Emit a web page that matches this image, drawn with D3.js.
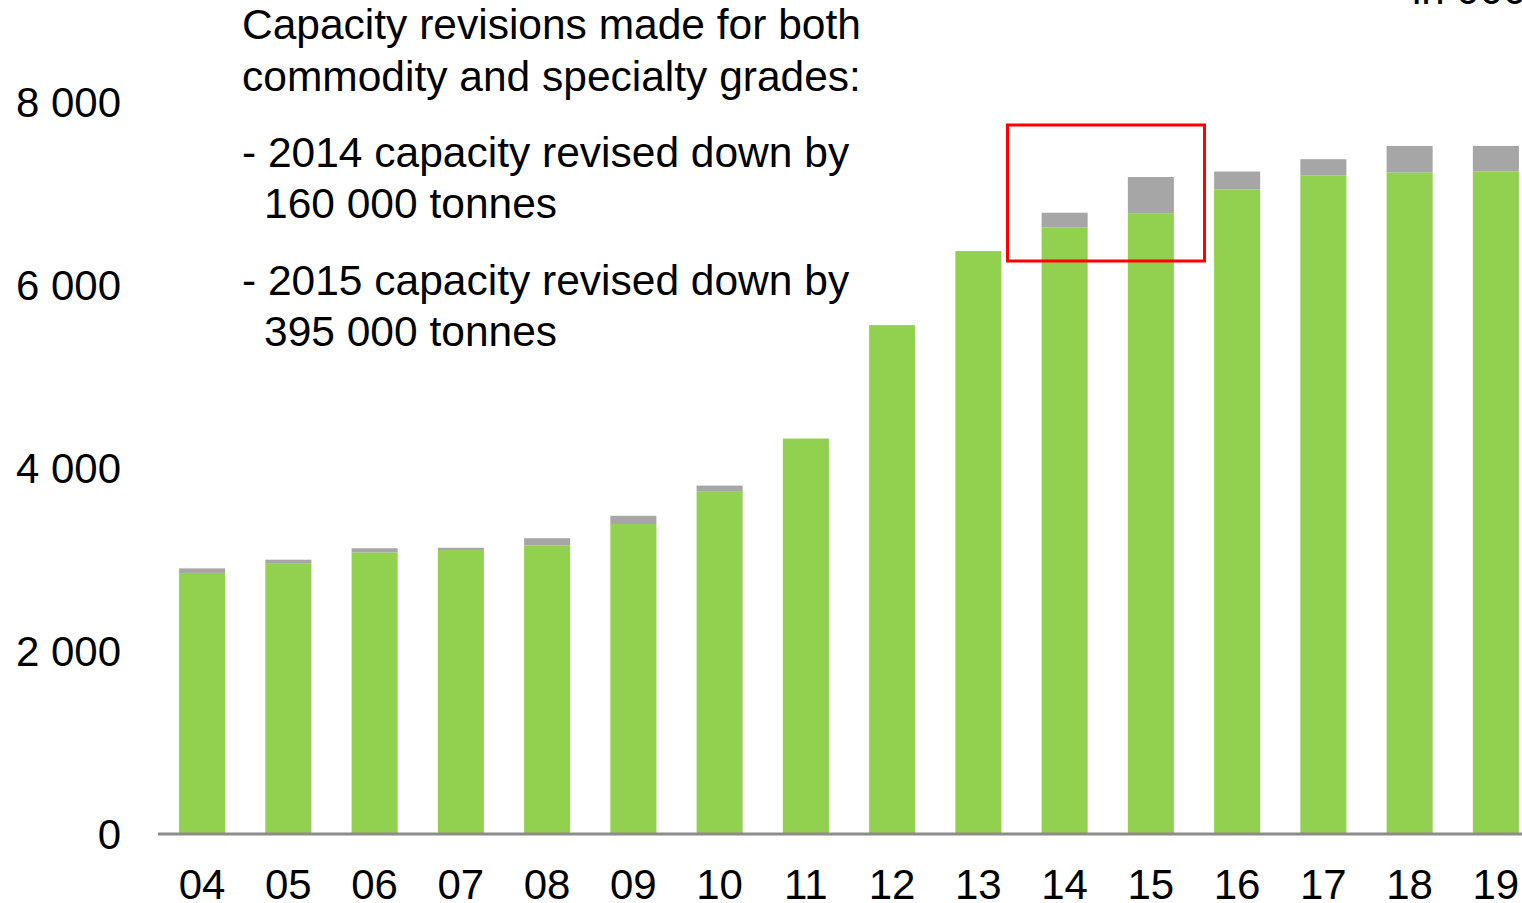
<!DOCTYPE html>
<html><head><meta charset="utf-8">
<script src="https://cdn.jsdelivr.net/npm/d3@7"></script>
<style>
html,body{margin:0;padding:0;background:#fff;overflow:hidden;}
svg{display:block;font-family:"Liberation Sans",Arial,sans-serif;}
</style></head>
<body>
<svg id="chart" width="1522" height="903"></svg>
<script>
const years = ["04","05","06","07","08","09","10","11","12","13","14","15","16","17","18","19"];
const currentCapacity = [2855, 2955, 3080, 3105, 3155, 3390, 3750, 4325, 5565, 6375, 6635, 6790, 7050, 7200, 7235, 7245];
const revision = [50, 45, 45, 25, 80, 90, 60, 0, 0, 0, 160, 395, 195, 180, 290, 280];
const yTicks = [0, 2000, 4000, 6000, 8000];
const noteLines = [
  {t:"Capacity revisions made for both", indent:0},
  {t:"commodity and specialty grades:", indent:0},
  {t:"- 2014 capacity revised down by", indent:0},
  {t:"160 000 tonnes", indent:1},
  {t:"- 2015 capacity revised down by", indent:0},
  {t:"395 000 tonnes", indent:1}
];
const unitLabel = "in 000 tonnes";

const svg = d3.select("#chart");
const x = d3.scaleBand().domain(years).range([159, 1539]).paddingInner(0.466).paddingOuter(0.233);
const y = d3.scaleLinear().domain([0, 8000]).range([834, 102.5]);

const data = years.map((yr,i)=>({year:yr, current:currentCapacity[i], revision:revision[i]}));
const stack = d3.stack().keys(["current","revision"])(data);
const colors = {current:"#92d050", revision:"#a6a6a6"};

svg.append("g").selectAll("g").data(stack).join("g")
  .attr("fill", d=>colors[d.key])
  .selectAll("rect").data(d=>d).join("rect")
  .attr("x", d=>x(d.data.year))
  .attr("width", x.bandwidth())
  .attr("y", d=>y(d[1]))
  .attr("height", d=>Math.max(0, y(d[0])-y(d[1])));

// baseline axis
svg.append("line").attr("x1",158).attr("x2",1522).attr("y1",y(0)).attr("y2",y(0))
  .attr("stroke","#8c8c8c").attr("stroke-width",3);

// y tick labels
const fmt = v => d3.format(",")(v).replace(/,/g," ");
svg.append("g").selectAll("text").data(yTicks).join("text")
  .attr("x",121).attr("y",d=>y(d)).attr("text-anchor","end").attr("dy","0.35em")
  .attr("font-size",42).attr("fill","#000").text(fmt);

// x labels
svg.append("g").selectAll("text").data(years).join("text")
  .attr("x",d=>x(d)+x.bandwidth()/2).attr("y",899).attr("text-anchor","middle")
  .attr("font-size",42).attr("fill","#000").text(d=>d);

// highlight box around 2014-2015
svg.append("rect").attr("x",1007.5).attr("y",125).attr("width",1204.5-1007.5).attr("height",261-125)
  .attr("fill","none").attr("stroke","#ff0000").attr("stroke-width",3);

// notes
const baselines = [39, 91, 167, 218, 295, 346];
svg.append("g").selectAll("text").data(noteLines).join("text")
  .attr("x",d=>d.indent?264:242).attr("y",(d,i)=>baselines[i])
  .attr("font-size",42.5).attr("fill","#000").text(d=>d.t);

// clipped unit label
svg.append("text").attr("x",1412).attr("y",4).attr("font-size",42).attr("fill","#000").text(unitLabel);
</script>
</body></html>
